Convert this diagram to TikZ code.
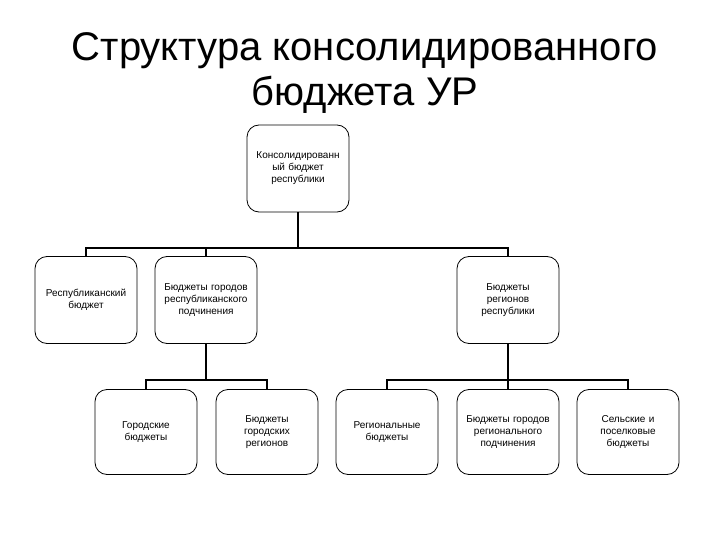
\documentclass[tikz,border=0pt]{standalone}
\usepackage{fontspec}
\setmainfont{Liberation Sans}
\begin{document}
\begin{tikzpicture}[x=1pt,y=-1pt,
 bx/.style={draw,line width=0.8pt,rounded corners=12pt,minimum width=102pt,minimum height=87pt,text width=98pt,align=center,font=\fontsize{10}{12}\selectfont,inner sep=1pt},
 ln/.style={line width=2.6pt}]
\useasboundingbox (0,0) rectangle (720,540);
\node[font=\fontsize{40}{45}\selectfont,align=center] (title) at (365,73) {Структура консолидированного\\бюджета УР};
\node[bx,minimum height=87pt] (root) at (298,168.5) {Консолидированн\\ый бюджет\\республики};
\node[bx] (a) at (86,300) {Республиканский\\бюджет};
\node[bx] (b) at (206,300) {Бюджеты городов\\республиканского\\подчинения};
\node[bx] (c) at (508,300) {Бюджеты\\регионов\\республики};
\node[bx,minimum height=85pt] (d) at (146,432) {Городские\\бюджеты};
\node[bx,minimum height=85pt] (e) at (267,432) {Бюджеты\\городских\\регионов};
\node[bx,minimum height=85pt] (f) at (387,432) {Региональные\\бюджеты};
\node[bx,minimum height=85pt] (g) at (508,432) {Бюджеты городов\\регионального\\подчинения};
\node[bx,minimum height=85pt] (h) at (628,432) {Сельские и\\поселковые\\бюджеты};
\coordinate (j1) at (298,248);
\coordinate (j2) at (206,380);
\coordinate (j3) at (508,380);
\draw[ln] (root.south) -- (j1);
\draw[ln] (a.north) |- (j1) -| (c.north);
\draw[ln] (b.north) -- (b.north |- j1);
\draw[ln] (b.south) -- (j2);
\draw[ln] (d.north) |- (j2) -| (e.north);
\draw[ln] (c.south) -- (j3);
\draw[ln] (f.north) |- (j3) -| (h.north);
\draw[ln] (g.north) -- (j3);
\end{tikzpicture}
\end{document}
